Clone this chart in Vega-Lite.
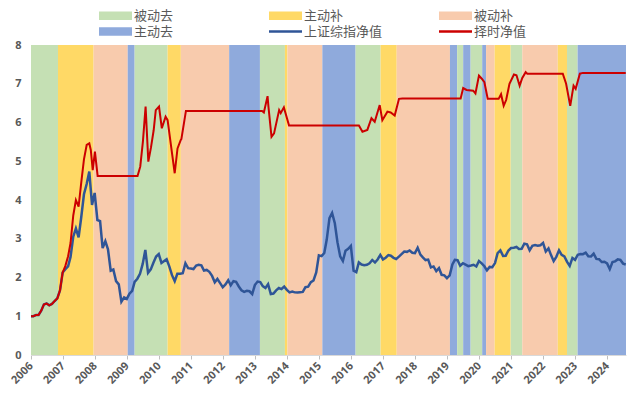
{
  "$schema": "https://vega.github.io/schema/vega-lite/v6.json",
  "width": 595,
  "height": 310,
  "autosize": "none",
  "padding": {"left": 31, "top": 45, "right": 4, "bottom": 41},
  "background": "white",
  "config": {"view": {"stroke": null}, "font": "Noto Sans", "axis": {"labelOverlap": false}, "axisY": {"labelOverlap": false, "tickCount": 9}},
  "datasets": {
    "bands": [
      {"start": "2006-01-01", "end": "2006-11-05", "name": "被动去"},
      {"start": "2006-11-05", "end": "2007-12-16", "name": "主动补"},
      {"start": "2007-12-16", "end": "2009-01-08", "name": "被动补"},
      {"start": "2009-01-08", "end": "2009-03-28", "name": "主动去"},
      {"start": "2009-03-28", "end": "2010-04-08", "name": "被动去"},
      {"start": "2010-04-08", "end": "2010-09-06", "name": "主动补"},
      {"start": "2010-09-06", "end": "2012-03-10", "name": "被动补"},
      {"start": "2012-03-10", "end": "2013-02-24", "name": "主动去"},
      {"start": "2013-02-24", "end": "2013-12-06", "name": "被动去"},
      {"start": "2013-12-06", "end": "2014-01-04", "name": "主动补"},
      {"start": "2014-01-04", "end": "2015-02-06", "name": "被动补"},
      {"start": "2015-02-06", "end": "2016-02-20", "name": "主动去"},
      {"start": "2016-02-20", "end": "2016-12-01", "name": "被动去"},
      {"start": "2016-12-01", "end": "2017-06-03", "name": "主动补"},
      {"start": "2017-06-03", "end": "2019-01-31", "name": "被动补"},
      {"start": "2019-01-31", "end": "2019-04-23", "name": "主动去"},
      {"start": "2019-04-23", "end": "2019-07-01", "name": "被动去"},
      {"start": "2019-07-01", "end": "2019-09-24", "name": "主动去"},
      {"start": "2019-09-24", "end": "2020-02-03", "name": "被动去"},
      {"start": "2020-02-03", "end": "2020-03-18", "name": "主动去"},
      {"start": "2020-03-18", "end": "2020-06-24", "name": "被动补"},
      {"start": "2020-06-24", "end": "2020-12-24", "name": "主动补"},
      {"start": "2020-12-24", "end": "2021-05-05", "name": "被动去"},
      {"start": "2021-05-05", "end": "2022-06-14", "name": "被动补"},
      {"start": "2022-06-14", "end": "2022-09-27", "name": "主动补"},
      {"start": "2022-09-27", "end": "2023-01-26", "name": "被动去"},
      {"start": "2023-01-26", "end": "2024-07-31", "name": "主动去"}
    ],
    "sse": [
      {"date": "2006-01-01", "v": 1.0},
      {"date": "2006-01-28", "v": 1.0}, {"date": "2006-02-28", "v": 1.033}, {"date": "2006-03-28", "v": 1.032}, {"date": "2006-04-28", "v": 1.145}, {"date": "2006-05-28", "v": 1.305}, {"date": "2006-06-28", "v": 1.329}, {"date": "2006-07-28", "v": 1.282}, {"date": "2006-08-28", "v": 1.318}, {"date": "2006-09-28", "v": 1.393}, {"date": "2006-10-28", "v": 1.461}, {"date": "2006-11-28", "v": 1.669}, {"date": "2006-12-28", "v": 2.127},
      {"date": "2007-01-28", "v": 2.215}, {"date": "2007-02-28", "v": 2.29}, {"date": "2007-03-28", "v": 2.531}, {"date": "2007-04-28", "v": 3.053}, {"date": "2007-05-28", "v": 3.267}, {"date": "2007-06-28", "v": 3.037}, {"date": "2007-07-28", "v": 3.554}, {"date": "2007-08-28", "v": 4.148}, {"date": "2007-09-28", "v": 4.413}, {"date": "2007-10-28", "v": 4.733}, {"date": "2007-11-28", "v": 3.873}, {"date": "2007-12-28", "v": 4.182},
      {"date": "2008-01-28", "v": 3.484}, {"date": "2008-02-28", "v": 3.457}, {"date": "2008-03-28", "v": 2.76}, {"date": "2008-04-28", "v": 2.936}, {"date": "2008-05-28", "v": 2.729}, {"date": "2008-06-28", "v": 2.175}, {"date": "2008-07-28", "v": 2.206}, {"date": "2008-08-28", "v": 1.906}, {"date": "2008-09-28", "v": 1.823}, {"date": "2008-10-28", "v": 1.374}, {"date": "2008-11-28", "v": 1.487}, {"date": "2008-12-28", "v": 1.447},
      {"date": "2009-01-28", "v": 1.582}, {"date": "2009-02-28", "v": 1.656}, {"date": "2009-03-28", "v": 1.886}, {"date": "2009-04-28", "v": 1.969}, {"date": "2009-05-28", "v": 2.093}, {"date": "2009-06-28", "v": 2.352}, {"date": "2009-07-28", "v": 2.712}, {"date": "2009-08-28", "v": 2.121}, {"date": "2009-09-28", "v": 2.209}, {"date": "2009-10-28", "v": 2.381}, {"date": "2009-11-28", "v": 2.54}, {"date": "2009-12-28", "v": 2.605},
      {"date": "2010-01-28", "v": 2.376}, {"date": "2010-02-28", "v": 2.426}, {"date": "2010-03-28", "v": 2.471}, {"date": "2010-04-28", "v": 2.282}, {"date": "2010-05-28", "v": 2.06}, {"date": "2010-06-28", "v": 1.906}, {"date": "2010-07-28", "v": 2.097}, {"date": "2010-08-28", "v": 2.098}, {"date": "2010-09-28", "v": 2.111}, {"date": "2010-10-28", "v": 2.368}, {"date": "2010-11-28", "v": 2.242}, {"date": "2010-12-28", "v": 2.232},
      {"date": "2011-01-28", "v": 2.218}, {"date": "2011-02-28", "v": 2.309}, {"date": "2011-03-28", "v": 2.328}, {"date": "2011-04-28", "v": 2.314}, {"date": "2011-05-28", "v": 2.181}, {"date": "2011-06-28", "v": 2.196}, {"date": "2011-07-28", "v": 2.148}, {"date": "2011-08-28", "v": 2.041}, {"date": "2011-09-28", "v": 1.875}, {"date": "2011-10-28", "v": 1.962}, {"date": "2011-11-28", "v": 1.855}, {"date": "2011-12-28", "v": 1.748},
      {"date": "2012-01-28", "v": 1.822}, {"date": "2012-02-28", "v": 1.93}, {"date": "2012-03-28", "v": 1.799}, {"date": "2012-04-28", "v": 1.905}, {"date": "2012-05-28", "v": 1.886}, {"date": "2012-06-28", "v": 1.769}, {"date": "2012-07-28", "v": 1.672}, {"date": "2012-08-28", "v": 1.628}, {"date": "2012-09-28", "v": 1.658}, {"date": "2012-10-28", "v": 1.645}, {"date": "2012-11-28", "v": 1.574}, {"date": "2012-12-28", "v": 1.804},
      {"date": "2013-01-28", "v": 1.896}, {"date": "2013-02-28", "v": 1.88}, {"date": "2013-03-28", "v": 1.778}, {"date": "2013-04-28", "v": 1.731}, {"date": "2013-05-28", "v": 1.829}, {"date": "2013-06-28", "v": 1.573}, {"date": "2013-07-28", "v": 1.585}, {"date": "2013-08-28", "v": 1.668}, {"date": "2013-09-28", "v": 1.729}, {"date": "2013-10-28", "v": 1.702}, {"date": "2013-11-28", "v": 1.765}, {"date": "2013-12-28", "v": 1.682},
      {"date": "2014-01-28", "v": 1.616}, {"date": "2014-02-28", "v": 1.635}, {"date": "2014-03-28", "v": 1.616}, {"date": "2014-04-28", "v": 1.611}, {"date": "2014-05-28", "v": 1.621}, {"date": "2014-06-28", "v": 1.628}, {"date": "2014-07-28", "v": 1.75}, {"date": "2014-08-28", "v": 1.762}, {"date": "2014-09-28", "v": 1.879}, {"date": "2014-10-28", "v": 1.924}, {"date": "2014-11-28", "v": 2.133}, {"date": "2014-12-28", "v": 2.571},
      {"date": "2015-01-28", "v": 2.552}, {"date": "2015-02-28", "v": 2.631}, {"date": "2015-03-28", "v": 2.979}, {"date": "2015-04-28", "v": 3.531}, {"date": "2015-05-28", "v": 3.666}, {"date": "2015-06-28", "v": 3.4}, {"date": "2015-07-28", "v": 2.912}, {"date": "2015-08-28", "v": 2.548}, {"date": "2015-09-28", "v": 2.427}, {"date": "2015-10-28", "v": 2.689}, {"date": "2015-11-28", "v": 2.739}, {"date": "2015-12-28", "v": 2.813},
      {"date": "2016-01-28", "v": 2.176}, {"date": "2016-02-28", "v": 2.137}, {"date": "2016-03-28", "v": 2.388}, {"date": "2016-04-28", "v": 2.336}, {"date": "2016-05-28", "v": 2.318}, {"date": "2016-06-28", "v": 2.329}, {"date": "2016-07-28", "v": 2.368}, {"date": "2016-08-28", "v": 2.453}, {"date": "2016-09-28", "v": 2.388}, {"date": "2016-10-28", "v": 2.465}, {"date": "2016-11-28", "v": 2.583}, {"date": "2016-12-28", "v": 2.467},
      {"date": "2017-01-28", "v": 2.511}, {"date": "2017-02-28", "v": 2.577}, {"date": "2017-03-28", "v": 2.562}, {"date": "2017-04-28", "v": 2.508}, {"date": "2017-05-28", "v": 2.478}, {"date": "2017-06-28", "v": 2.538}, {"date": "2017-07-28", "v": 2.602}, {"date": "2017-08-28", "v": 2.671}, {"date": "2017-09-28", "v": 2.662}, {"date": "2017-10-28", "v": 2.697}, {"date": "2017-11-28", "v": 2.637}, {"date": "2017-12-28", "v": 2.629},
      {"date": "2018-01-28", "v": 2.767}, {"date": "2018-02-28", "v": 2.591}, {"date": "2018-03-28", "v": 2.519}, {"date": "2018-04-28", "v": 2.45}, {"date": "2018-05-28", "v": 2.461}, {"date": "2018-06-28", "v": 2.263}, {"date": "2018-07-28", "v": 2.286}, {"date": "2018-08-28", "v": 2.166}, {"date": "2018-09-28", "v": 2.243}, {"date": "2018-10-28", "v": 2.069}, {"date": "2018-11-28", "v": 2.057}, {"date": "2018-12-28", "v": 1.982},
      {"date": "2019-01-28", "v": 2.054}, {"date": "2019-02-28", "v": 2.338}, {"date": "2019-03-28", "v": 2.457}, {"date": "2019-04-28", "v": 2.447}, {"date": "2019-05-28", "v": 2.304}, {"date": "2019-06-28", "v": 2.368}, {"date": "2019-07-28", "v": 2.331}, {"date": "2019-08-28", "v": 2.294}, {"date": "2019-09-28", "v": 2.309}, {"date": "2019-10-28", "v": 2.328}, {"date": "2019-11-28", "v": 2.283}, {"date": "2019-12-28", "v": 2.424},
      {"date": "2020-01-28", "v": 2.366}, {"date": "2020-02-28", "v": 2.29}, {"date": "2020-03-28", "v": 2.186}, {"date": "2020-04-28", "v": 2.273}, {"date": "2020-05-28", "v": 2.267}, {"date": "2020-06-28", "v": 2.372}, {"date": "2020-07-28", "v": 2.631}, {"date": "2020-08-28", "v": 2.699}, {"date": "2020-09-28", "v": 2.558}, {"date": "2020-10-28", "v": 2.563}, {"date": "2020-11-28", "v": 2.696}, {"date": "2020-12-28", "v": 2.761},
      {"date": "2021-01-28", "v": 2.769}, {"date": "2021-02-28", "v": 2.789}, {"date": "2021-03-28", "v": 2.736}, {"date": "2021-04-28", "v": 2.74}, {"date": "2021-05-28", "v": 2.874}, {"date": "2021-06-28", "v": 2.855}, {"date": "2021-07-28", "v": 2.701}, {"date": "2021-08-28", "v": 2.817}, {"date": "2021-09-28", "v": 2.836}, {"date": "2021-10-28", "v": 2.82}, {"date": "2021-11-28", "v": 2.833}, {"date": "2021-12-28", "v": 2.893},
      {"date": "2022-01-28", "v": 2.672}, {"date": "2022-02-28", "v": 2.752}, {"date": "2022-03-28", "v": 2.585}, {"date": "2022-04-28", "v": 2.422}, {"date": "2022-05-28", "v": 2.533}, {"date": "2022-06-28", "v": 2.702}, {"date": "2022-07-28", "v": 2.586}, {"date": "2022-08-28", "v": 2.545}, {"date": "2022-09-28", "v": 2.404}, {"date": "2022-10-28", "v": 2.3}, {"date": "2022-11-28", "v": 2.505}, {"date": "2022-12-28", "v": 2.456},
      {"date": "2023-01-28", "v": 2.588}, {"date": "2023-02-28", "v": 2.607}, {"date": "2023-03-28", "v": 2.602}, {"date": "2023-04-28", "v": 2.642}, {"date": "2023-05-28", "v": 2.547}, {"date": "2023-06-28", "v": 2.545}, {"date": "2023-07-28", "v": 2.616}, {"date": "2023-08-28", "v": 2.48}, {"date": "2023-09-28", "v": 2.472}, {"date": "2023-10-28", "v": 2.4}, {"date": "2023-11-28", "v": 2.408}, {"date": "2023-12-28", "v": 2.365},
      {"date": "2024-01-28", "v": 2.217}, {"date": "2024-02-28", "v": 2.397}, {"date": "2024-03-28", "v": 2.417}, {"date": "2024-04-28", "v": 2.468}, {"date": "2024-05-28", "v": 2.454}, {"date": "2024-06-28", "v": 2.359}, {"date": "2024-07-28", "v": 2.336}
    ],
    "timing": [
      {"date": "2006-01-01", "v": 1.0},
      {"date": "2006-01-28", "v": 1.0}, {"date": "2006-02-28", "v": 1.033}, {"date": "2006-03-28", "v": 1.032}, {"date": "2006-04-28", "v": 1.145}, {"date": "2006-05-28", "v": 1.305}, {"date": "2006-06-28", "v": 1.329}, {"date": "2006-07-28", "v": 1.282}, {"date": "2006-08-28", "v": 1.318}, {"date": "2006-09-28", "v": 1.393}, {"date": "2006-10-28", "v": 1.461}, {"date": "2006-11-28", "v": 1.669}, {"date": "2006-12-28", "v": 2.127},
      {"date": "2007-01-28", "v": 2.3}, {"date": "2007-02-28", "v": 2.55}, {"date": "2007-03-28", "v": 2.89}, {"date": "2007-04-28", "v": 3.6}, {"date": "2007-05-28", "v": 4.0}, {"date": "2007-06-28", "v": 3.83}, {"date": "2007-07-28", "v": 4.45}, {"date": "2007-08-28", "v": 5.05}, {"date": "2007-09-28", "v": 5.42}, {"date": "2007-10-28", "v": 5.46},
      {"date": "2007-11-14", "v": 5.29}, {"date": "2007-12-06", "v": 4.77}, {"date": "2007-12-31", "v": 5.25}, {"date": "2008-01-31", "v": 4.62},
      {"date": "2009-04-30", "v": 4.62}, {"date": "2009-05-31", "v": 4.86}, {"date": "2009-06-30", "v": 5.5}, {"date": "2009-07-31", "v": 6.41}, {"date": "2009-08-31", "v": 4.99}, {"date": "2009-09-30", "v": 5.35}, {"date": "2009-10-31", "v": 5.8}, {"date": "2009-11-24", "v": 6.32}, {"date": "2009-12-31", "v": 6.41},
      {"date": "2010-02-01", "v": 5.85}, {"date": "2010-03-16", "v": 6.15}, {"date": "2010-04-08", "v": 6.06}, {"date": "2010-06-28", "v": 4.69}, {"date": "2010-07-30", "v": 5.33}, {"date": "2010-09-05", "v": 5.55}, {"date": "2010-09-12", "v": 5.57}, {"date": "2010-11-03", "v": 6.3},
      {"date": "2013-03-20", "v": 6.3}, {"date": "2013-04-10", "v": 6.26}, {"date": "2013-05-22", "v": 6.68}, {"date": "2013-06-01", "v": 6.41}, {"date": "2013-07-06", "v": 5.63}, {"date": "2013-08-04", "v": 5.72}, {"date": "2013-10-01", "v": 6.32}, {"date": "2013-10-19", "v": 6.24}, {"date": "2013-11-24", "v": 6.39}, {"date": "2014-01-22", "v": 5.92},
      {"date": "2016-03-29", "v": 5.92}, {"date": "2016-05-08", "v": 5.76}, {"date": "2016-07-03", "v": 5.81}, {"date": "2016-08-19", "v": 6.11}, {"date": "2016-09-25", "v": 6.02}, {"date": "2016-11-21", "v": 6.45}, {"date": "2016-12-21", "v": 6.06}, {"date": "2017-02-17", "v": 6.28}, {"date": "2017-03-26", "v": 6.26}, {"date": "2017-05-11", "v": 6.18}, {"date": "2017-06-29", "v": 6.61}, {"date": "2017-08-07", "v": 6.62},
      {"date": "2019-06-02", "v": 6.62}, {"date": "2019-07-01", "v": 6.89}, {"date": "2019-08-08", "v": 6.84}, {"date": "2019-10-23", "v": 6.82}, {"date": "2019-11-18", "v": 6.75}, {"date": "2019-12-28", "v": 7.21},
      {"date": "2020-01-29", "v": 7.13}, {"date": "2020-02-28", "v": 7.04}, {"date": "2020-04-06", "v": 6.61}, {"date": "2020-08-08", "v": 6.61}, {"date": "2020-09-05", "v": 6.73}, {"date": "2020-10-05", "v": 6.43}, {"date": "2020-11-02", "v": 6.58}, {"date": "2020-12-10", "v": 7.0},
      {"date": "2021-01-30", "v": 7.24}, {"date": "2021-02-28", "v": 7.22}, {"date": "2021-04-05", "v": 6.95}, {"date": "2021-05-05", "v": 7.15}, {"date": "2021-06-13", "v": 7.3}, {"date": "2021-07-01", "v": 7.26},
      {"date": "2022-08-10", "v": 7.26}, {"date": "2022-09-17", "v": 7.0}, {"date": "2022-11-03", "v": 6.43}, {"date": "2022-12-11", "v": 6.95}, {"date": "2023-01-04", "v": 6.87}, {"date": "2023-02-21", "v": 7.26}, {"date": "2023-03-28", "v": 7.28}, {"date": "2024-07-28", "v": 7.28}
    ]
  },
  "layer": [
    {
      "data": {"name": "bands"},
      "mark": {"type": "rect"},
      "encoding": {
        "x": {
          "field": "start", "type": "temporal",
          "scale": {"domain": [{"year": 2006, "month": 1, "date": 1}, {"year": 2024, "month": 7, "date": 31}], "nice": false},
          "axis": {
            "title": null, "format": "%Y", "tickCount": {"interval": "year", "step": 1},
            "labelAngle": -45, "labelAlign": "right", "labelBaseline": "middle", "labelPadding": 5,
            "labelFont": "Noto Sans", "labelFontWeight": "bold", "labelFontSize": 11, "labelColor": "#595959",
            "ticks": true, "tickColor": "#bfbfbf", "tickSize": 4, "domain": true, "domainColor": "#d9d9d9", "grid": false
          }
        },
        "x2": {"field": "end"},
        "color": {
          "field": "name", "type": "nominal",
          "scale": {
            "domain": ["被动去", "主动补", "被动补", "主动去", "上证综指净值", "择时净值"],
            "range": ["#C5E0B4", "#FFD966", "#F8CBAD", "#8FAADC", "#2F5597", "#CC0000"]
          },
          "legend": {
            "title": null, "orient": "none", "legendX": 78, "legendY": -36,
            "direction": "horizontal", "columns": 3, "gridAlign": "all",
            "columnPadding": 56, "rowPadding": 2,
            "symbolSize": 100, "symbolStrokeWidth": 0,
            "labelFont": "Liberation Sans, Noto Sans CJK SC", "labelFontSize": 13, "labelColor": "#595959", "labelOffset": 12, "labelLimit": 200,
            "encode": {
              "symbols": {
                "update": {
                  "shape": {"signal": "(datum.value === '上证综指净值' || datum.value === '择时净值') ? 'M-3.3,-0.25H3.3V0.25H-3.3Z' : 'M-3.3,-0.85H3.3V0.85H-3.3Z'"},
                  "fill": {"signal": "scale('color', datum.value)"},
                  "stroke": {"value": "transparent"},
                  "opacity": {"value": 1},
                  "fillOpacity": {"value": 1}
                }
              }
            }
          }
        }
      }
    },
    {
      "data": {"name": "sse"},
      "transform": [{"calculate": "'上证综指净值'", "as": "name"}],
      "mark": {"type": "line", "strokeWidth": 2.5, "interpolate": "linear"},
      "encoding": {
        "x": {"field": "date", "type": "temporal"},
        "y": {
          "field": "v", "type": "quantitative",
          "scale": {"domain": [0, 8], "nice": false},
          "axis": {
            "title": null, "values": [0, 1, 2, 3, 4, 5, 6, 7, 8], "tickCount": 9, "labelOverlap": false, "labelSeparation": 0, "ticks": false, "domain": false, "grid": false,
            "labelFont": "Noto Sans", "labelFontWeight": "bold", "labelFontSize": 11, "labelColor": "#595959", "labelPadding": 10
          }
        },
        "color": {"field": "name", "type": "nominal"}
      }
    },
    {
      "data": {"name": "timing"},
      "transform": [{"calculate": "'择时净值'", "as": "name"}],
      "mark": {"type": "line", "strokeWidth": 2, "interpolate": "linear"},
      "encoding": {
        "x": {"field": "date", "type": "temporal"},
        "y": {
          "field": "v", "type": "quantitative",
          "axis": {
            "title": null, "values": [0, 1, 2, 3, 4, 5, 6, 7, 8], "tickCount": 9, "labelOverlap": false, "labelSeparation": 0, "ticks": false, "domain": false, "grid": false,
            "labelFont": "Noto Sans", "labelFontWeight": "bold", "labelFontSize": 11, "labelColor": "#595959", "labelPadding": 10
          }
        },
        "color": {"field": "name", "type": "nominal"}
      }
    }
  ]
}
